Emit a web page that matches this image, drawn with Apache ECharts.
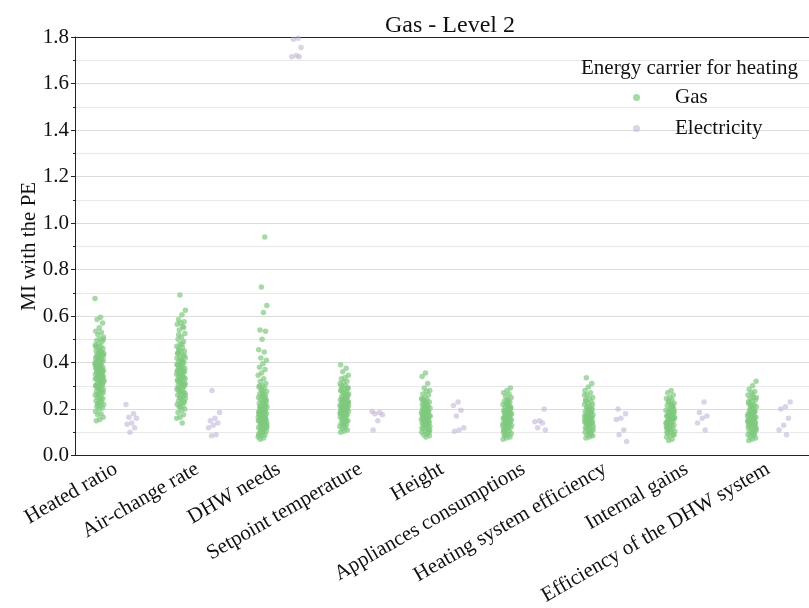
<!DOCTYPE html>
<html>
<head>
<meta charset="utf-8">
<script src="https://cdn.jsdelivr.net/npm/echarts@6/dist/echarts.min.js"></script>
<style>
html,body{margin:0;padding:0;background:#fff}
#main{width:809px;height:608px}
</style>
</head>
<body>
<div id="main"></div>
<script>
var categories = ['Heated ratio', 'Air-change rate', 'DHW needs', 'Setpoint temperature', 'Height',
    'Appliances consumptions', 'Heating system efficiency', 'Internal gains', 'Efficiency of the DHW system'];
var hues = ['Gas', 'Electricity'];
var yTicks = [0, 0.2, 0.4, 0.6, 0.8, 1.0, 1.2, 1.4, 1.6, 1.8];

// MI values, one list per category (Gas)
var gasHeatedRatio = [0.675, 0.595, 0.585, 0.57, 0.55, 0.535, 0.53, 0.52, 0.51, 0.5, 0.495, 0.49, 0.48, 0.475, 0.47,
    0.465, 0.46, 0.455, 0.45, 0.445, 0.44, 0.44, 0.435, 0.43, 0.43, 0.425, 0.42, 0.415, 0.41, 0.41, 0.405, 0.40, 0.40,
    0.395, 0.39, 0.39, 0.385, 0.38, 0.38, 0.375, 0.37, 0.37, 0.365, 0.36, 0.36, 0.355, 0.35, 0.35, 0.345, 0.34, 0.34,
    0.335, 0.33, 0.33, 0.325, 0.32, 0.315, 0.31, 0.31, 0.305, 0.30, 0.295, 0.29, 0.285, 0.28, 0.275, 0.27, 0.265, 0.26,
    0.255, 0.25, 0.245, 0.24, 0.235, 0.23, 0.225, 0.22, 0.215, 0.21, 0.205, 0.2, 0.19, 0.18, 0.175, 0.165, 0.155, 0.15,
    0.44, 0.42, 0.4, 0.38, 0.36, 0.34, 0.32, 0.3, 0.28, 0.26, 0.43, 0.41, 0.39, 0.37, 0.35, 0.33, 0.31, 0.29, 0.27,
    0.45, 0.385, 0.365, 0.345, 0.325, 0.405, 0.425, 0.305, 0.285, 0.47, 0.24, 0.22, 0.5, 0.395, 0.375, 0.355];
var gasAirChange = [0.69, 0.625, 0.605, 0.585, 0.575, 0.57, 0.565, 0.555, 0.54, 0.525, 0.51, 0.5, 0.49, 0.48, 0.47,
    0.465, 0.46, 0.45, 0.445, 0.44, 0.43, 0.425, 0.42, 0.41, 0.405, 0.40, 0.395, 0.39, 0.385, 0.38, 0.375, 0.37, 0.365,
    0.36, 0.355, 0.35, 0.345, 0.34, 0.335, 0.33, 0.325, 0.32, 0.315, 0.31, 0.305, 0.30, 0.295, 0.29, 0.285, 0.28, 0.275,
    0.27, 0.265, 0.26, 0.255, 0.25, 0.245, 0.24, 0.235, 0.23, 0.225, 0.22, 0.215, 0.21, 0.2, 0.195, 0.185, 0.175, 0.165,
    0.16, 0.14, 0.45, 0.43, 0.41, 0.39, 0.37, 0.35, 0.33, 0.31, 0.29, 0.27, 0.25, 0.42, 0.4, 0.38, 0.36, 0.34, 0.32,
    0.3, 0.28, 0.26, 0.48, 0.52, 0.23, 0.385, 0.365, 0.345, 0.325, 0.305, 0.405, 0.44, 0.55, 0.21];
var gasDhwNeeds = [0.94, 0.725, 0.645, 0.615, 0.54, 0.535, 0.5, 0.455, 0.445, 0.42, 0.41, 0.395, 0.38, 0.37, 0.355,
    0.345, 0.33, 0.32, 0.31, 0.30, 0.295, 0.29, 0.28, 0.275, 0.27, 0.265, 0.26, 0.255, 0.25, 0.245, 0.24, 0.235, 0.23,
    0.225, 0.22, 0.215, 0.21, 0.205, 0.2, 0.2, 0.195, 0.19, 0.19, 0.185, 0.18, 0.18, 0.175, 0.17, 0.17, 0.165, 0.16, 0.16,
    0.155, 0.15, 0.15, 0.145, 0.14, 0.14, 0.135, 0.13, 0.13, 0.125, 0.12, 0.115, 0.11, 0.105, 0.1, 0.095, 0.09, 0.085,
    0.08, 0.075, 0.07, 0.22, 0.2, 0.18, 0.16, 0.14, 0.12, 0.1, 0.21, 0.19, 0.17, 0.15, 0.13, 0.11, 0.24, 0.26, 0.185,
    0.165, 0.145, 0.125, 0.195, 0.175, 0.155, 0.28, 0.09, 0.23, 0.205, 0.135, 0.115, 0.3, 0.25];
var gasSetpoint = [0.39, 0.375, 0.36, 0.345, 0.335, 0.33, 0.32, 0.315, 0.31, 0.30, 0.295, 0.29, 0.285, 0.28, 0.275,
    0.27, 0.265, 0.26, 0.255, 0.25, 0.245, 0.24, 0.24, 0.235, 0.23, 0.23, 0.225, 0.22, 0.22, 0.215, 0.21, 0.21, 0.205,
    0.2, 0.2, 0.195, 0.19, 0.19, 0.185, 0.18, 0.175, 0.17, 0.165, 0.16, 0.155, 0.15, 0.145, 0.14, 0.135, 0.13, 0.125,
    0.12, 0.115, 0.11, 0.105, 0.1, 0.25, 0.24, 0.23, 0.22, 0.21, 0.2, 0.19, 0.18, 0.17, 0.16, 0.26, 0.27, 0.28, 0.15,
    0.14, 0.215, 0.205, 0.195, 0.225, 0.235, 0.185, 0.175, 0.245, 0.29, 0.13, 0.3];
var gasHeight = [0.355, 0.34, 0.31, 0.29, 0.28, 0.275, 0.265, 0.26, 0.25, 0.245, 0.24, 0.235, 0.23, 0.225, 0.22, 0.215,
    0.21, 0.205, 0.2, 0.195, 0.19, 0.185, 0.18, 0.18, 0.175, 0.17, 0.17, 0.165, 0.16, 0.16, 0.155, 0.15, 0.15, 0.145,
    0.14, 0.14, 0.135, 0.13, 0.125, 0.12, 0.115, 0.11, 0.105, 0.1, 0.095, 0.09, 0.085, 0.08, 0.2, 0.19, 0.18, 0.17,
    0.16, 0.15, 0.14, 0.13, 0.12, 0.21, 0.22, 0.11, 0.175, 0.165, 0.155, 0.145, 0.185, 0.195, 0.135, 0.1, 0.23, 0.24,
    0.125, 0.205];
var gasAppliances = [0.29, 0.28, 0.27, 0.265, 0.255, 0.25, 0.24, 0.235, 0.23, 0.225, 0.22, 0.215, 0.21, 0.205, 0.2,
    0.195, 0.19, 0.185, 0.18, 0.175, 0.17, 0.17, 0.165, 0.16, 0.16, 0.155, 0.15, 0.15, 0.145, 0.14, 0.14, 0.135, 0.13,
    0.125, 0.12, 0.115, 0.11, 0.105, 0.1, 0.095, 0.09, 0.085, 0.08, 0.075, 0.07, 0.2, 0.19, 0.18, 0.17, 0.16, 0.15,
    0.14, 0.13, 0.12, 0.11, 0.21, 0.22, 0.1, 0.175, 0.165, 0.155, 0.145, 0.185, 0.195, 0.135, 0.125, 0.23, 0.09, 0.205,
    0.24];
var gasHeatingEff = [0.335, 0.31, 0.295, 0.28, 0.27, 0.26, 0.25, 0.245, 0.235, 0.23, 0.225, 0.22, 0.21, 0.205, 0.2,
    0.195, 0.19, 0.185, 0.18, 0.175, 0.17, 0.165, 0.16, 0.16, 0.155, 0.15, 0.15, 0.145, 0.14, 0.14, 0.135, 0.13, 0.125,
    0.12, 0.115, 0.11, 0.105, 0.1, 0.095, 0.09, 0.085, 0.08, 0.075, 0.19, 0.18, 0.17, 0.16, 0.15, 0.14, 0.13, 0.12,
    0.2, 0.21, 0.11, 0.1, 0.175, 0.165, 0.155, 0.145, 0.185, 0.135, 0.22, 0.125, 0.24, 0.09, 0.195, 0.26];
var gasInternalGains = [0.28, 0.27, 0.26, 0.25, 0.245, 0.24, 0.235, 0.225, 0.22, 0.215, 0.21, 0.2, 0.195, 0.19, 0.185,
    0.18, 0.175, 0.17, 0.165, 0.16, 0.16, 0.155, 0.15, 0.15, 0.145, 0.14, 0.14, 0.135, 0.13, 0.125, 0.12, 0.115, 0.11,
    0.105, 0.1, 0.095, 0.09, 0.085, 0.08, 0.07, 0.065, 0.19, 0.18, 0.17, 0.16, 0.15, 0.14, 0.13, 0.12, 0.2, 0.11, 0.1,
    0.21, 0.175, 0.165, 0.155, 0.145, 0.185, 0.135, 0.125, 0.22, 0.23, 0.09, 0.195, 0.115];
var gasDhwEff = [0.32, 0.3, 0.285, 0.275, 0.27, 0.26, 0.25, 0.245, 0.24, 0.235, 0.225, 0.22, 0.215, 0.21, 0.2, 0.195,
    0.19, 0.185, 0.18, 0.175, 0.17, 0.165, 0.16, 0.16, 0.155, 0.15, 0.15, 0.145, 0.14, 0.14, 0.135, 0.13, 0.125, 0.12,
    0.115, 0.11, 0.105, 0.1, 0.095, 0.09, 0.085, 0.08, 0.075, 0.07, 0.065, 0.19, 0.18, 0.17, 0.16, 0.15, 0.14, 0.13,
    0.12, 0.2, 0.21, 0.11, 0.1, 0.175, 0.165, 0.155, 0.145, 0.185, 0.135, 0.125, 0.22, 0.23, 0.09, 0.195, 0.25, 0.26];

// Electricity
var elecHeatedRatio = [0.22, 0.18, 0.165, 0.16, 0.14, 0.135, 0.12, 0.10];
var elecAirChange = [0.28, 0.185, 0.16, 0.15, 0.14, 0.13, 0.12, 0.09, 0.085];
var elecDhwNeeds = [1.795, 1.79, 1.755, 1.72, 1.715, 1.715];
var elecSetpoint = [0.19, 0.185, 0.18, 0.175, 0.15, 0.11];
var elecHeight = [0.23, 0.215, 0.195, 0.17, 0.12, 0.11, 0.105];
var elecAppliances = [0.2, 0.15, 0.145, 0.14, 0.12, 0.11];
var elecHeatingEff = [0.2, 0.18, 0.16, 0.155, 0.11, 0.09, 0.06];
var elecInternalGains = [0.23, 0.185, 0.17, 0.16, 0.14, 0.11];
var elecDhwEff = [0.23, 0.21, 0.2, 0.16, 0.13, 0.11, 0.09];

var gasValues = [gasHeatedRatio, gasAirChange, gasDhwNeeds, gasSetpoint, gasHeight,
    gasAppliances, gasHeatingEff, gasInternalGains, gasDhwEff];
var elecValues = [elecHeatedRatio, elecAirChange, elecDhwNeeds, elecSetpoint, elecHeight,
    elecAppliances, elecHeatingEff, elecInternalGains, elecDhwEff];

// strip layout: hue dodge and a fixed (non random) jitter spread
function stripPoints(lists, dodge, spread) {
    var pts = [];
    lists.forEach(function (vals, c) {
        vals.forEach(function (v, i) {
            var j = ((i * 0.6180339887 + c * 0.37) % 1 - 0.5) * spread;
            pts.push([c + dodge + j, v]);
        });
    });
    return pts;
}

var font = 'Liberation Serif';
var chart = echarts.init(document.getElementById('main'));

var option = {
    backgroundColor: '#ffffff',
    animation: false,
    textStyle: { fontFamily: font },
    title: [
        {
            text: 'Gas - Level 2',
            left: 445, top: 9, textAlign: 'center',
            textStyle: { fontFamily: font, fontSize: 24, fontWeight: 'normal', color: '#111' }
        },
        {
            text: 'Energy carrier for heating',
            left: 576, top: 53,
            textStyle: { fontFamily: font, fontSize: 21, fontWeight: 'normal', color: '#111' }
        }
    ],
    legend: {
        data: hues,
        orient: 'vertical',
        left: 628, top: 82,
        itemWidth: 7, itemHeight: 7, itemGap: 10,
        icon: 'circle',
        textStyle: { fontFamily: font, fontSize: 21, color: '#111', padding: [0, 0, 0, 30] }
    },
    grid: {
        left: 75, right: -5, top: 37, bottom: 151
    },
    xAxis: [
        {
            type: 'category',
            data: categories,
            axisLine: { lineStyle: { color: '#222', width: 1 } },
            axisTick: { alignWithLabel: true, length: 4, lineStyle: { color: '#222' } },
            axisLabel: { rotate: 30, fontFamily: font, fontSize: 21, color: '#111', margin: 12, interval: 0 },
            splitLine: { show: false }
        },
        {
            type: 'value', min: -0.5, max: 8.5, show: false,
            splitLine: { show: false }
        },
        {
            type: 'category', position: 'top', data: categories,
            axisLine: { show: true, lineStyle: { color: '#222', width: 1 } },
            axisTick: { show: false }, axisLabel: { show: false }, splitLine: { show: false }
        }
    ],
    yAxis: {
        type: 'value',
        min: yTicks[0], max: yTicks[yTicks.length - 1], interval: 0.2,
        name: 'MI with the PE',
        nameLocation: 'middle', nameGap: 35, nameMoveOverlap: false,
        nameTextStyle: { fontFamily: font, fontSize: 21, color: '#111' },
        axisLine: { show: true, onZero: false, lineStyle: { color: '#222', width: 1 } },
        axisTick: { show: true, length: 4, lineStyle: { color: '#222' } },
        minorTick: { show: true, splitNumber: 2, length: 2, lineStyle: { color: '#222' } },
        axisLabel: {
            fontFamily: font, fontSize: 21, color: '#111', margin: 6,
            formatter: function (v) { return v.toFixed(1); }
        },
        splitLine: { show: true, lineStyle: { color: '#dcdcdc', width: 1 } },
        minorSplitLine: { show: true, lineStyle: { color: '#e8e8e8', width: 1 } }
    },
    series: [
        {
            name: 'Gas', type: 'scatter', xAxisIndex: 1,
            data: stripPoints(gasValues, -0.2, 0.11),
            symbolSize: 5.5,
            itemStyle: { color: '#7fc97f', opacity: 0.7 }
        },
        {
            name: 'Electricity', type: 'scatter', xAxisIndex: 1,
            data: stripPoints(elecValues, 0.2, 0.15),
            symbolSize: 5.5,
            itemStyle: { color: '#beaed4', opacity: 0.55 }
        }
    ]
};

chart.setOption(option);
</script>
</body>
</html>
